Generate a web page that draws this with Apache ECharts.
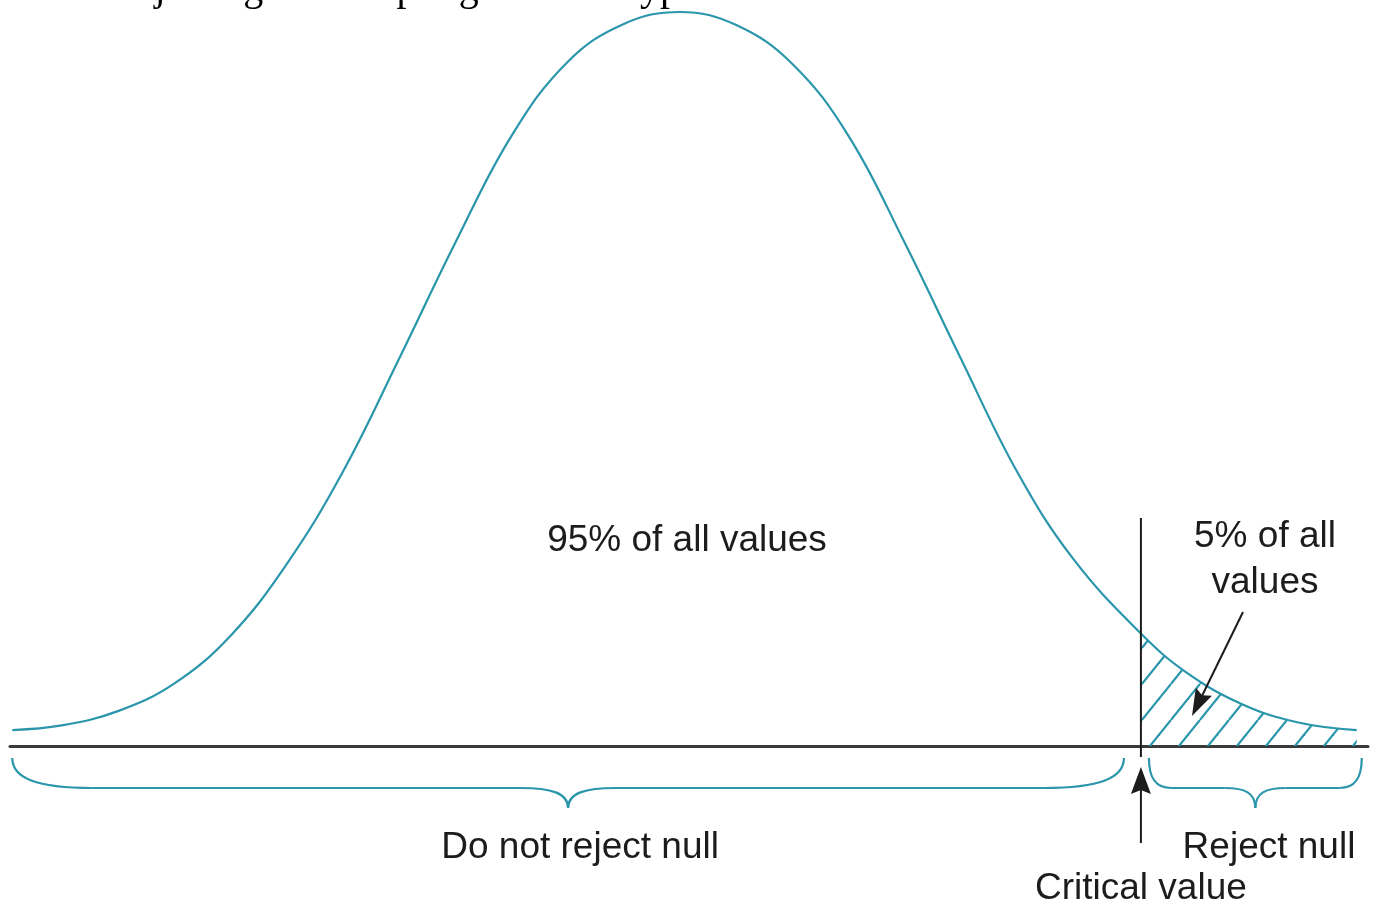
<!DOCTYPE html>
<html>
<head>
<meta charset="utf-8">
<title>Critical value and rejection region</title>
<script src="https://cdn.jsdelivr.net/npm/echarts@6/dist/echarts.min.js"></script>
<style>
  html, body { margin: 0; padding: 0; background: #ffffff; }
  #chart { width: 1375px; height: 905px; }
</style>
</head>
<body>
<div id="chart"></div>
<script>
// Sampling distribution: standardized position and curve height
const CURVE_Z = [-2.97, -2.75, -2.5, -2.25, -2.0, -1.75, -1.5, -1.25, -1.0, -0.75, -0.5, -0.25, 0,
                 0.25, 0.5, 0.75, 1.0, 1.25, 1.5, 1.75, 2.05, 2.25, 2.5, 2.75, 3.01];
const CURVE_H = [0.0087, 0.0112, 0.0190, 0.0340, 0.0600, 0.0990, 0.1493, 0.2109, 0.2741, 0.3324, 0.3728, 0.3935, 0.4000,
                 0.3929, 0.3717, 0.3324, 0.2741, 0.2109, 0.1493, 0.1018, 0.0613, 0.0403, 0.0228, 0.0128, 0.0086];
// Critical value separating the two decisions
const CRITICAL_Z = 2.05;

// Text
const CAPTION = 'Rejecting the sampling the null hypothesis';
const LABEL_KEEP_SHARE = '95% of all values';
const LABEL_TAIL_SHARE = ['5% of all', 'values'];
const LABEL_KEEP = 'Do not reject null';
const LABEL_REJECT = 'Reject null';
const LABEL_CRITICAL = 'Critical value';

const TEAL = '#2a96ab';
const INK = '#1c1c1c';
const SANS = '"Liberation Sans", Arial, Helvetica, sans-serif';

const curveData = CURVE_Z.map((z, i) => [z, CURVE_H[i]]);
const tailData = curveData.filter(p => p[0] >= CRITICAL_Z);

// Diagonal hatch tile for the rejection region
function hatchTile() {
  const w = 29, h = 36, off = 10.94;
  const c = document.createElement('canvas');
  c.width = w; c.height = h;
  const ctx = c.getContext('2d');
  ctx.strokeStyle = TEAL;
  ctx.lineWidth = 2.2;
  for (let k = -2; k <= 2; k++) {
    ctx.beginPath();
    ctx.moveTo(off + k * w, h);
    ctx.lineTo(off + k * w + w, 0);
    ctx.stroke();
  }
  return c;
}

const chart = echarts.init(document.getElementById('chart'), null, { renderer: 'canvas' });

chart.setOption({
  animation: false,
  backgroundColor: '#ffffff',
  grid: { left: 10, right: 7, top: 12, bottom: 159 },
  xAxis: {
    type: 'value', min: -2.98, max: 3.06,
    axisLine: { show: true, lineStyle: { color: '#3a3a3a', width: 3 } },
    axisTick: { show: false }, axisLabel: { show: false }, splitLine: { show: false }
  },
  yAxis: {
    type: 'value', min: 0, max: 0.4, show: false,
    splitLine: { show: false }
  },
  series: [
    {
      type: 'line', data: tailData, smooth: 0.4, symbol: 'none', clip: false,
      lineStyle: { width: 0 },
      areaStyle: { color: { image: hatchTile(), repeat: 'repeat' }, opacity: 1 },
      z: 1
    },
    {
      type: 'line', data: curveData, smooth: 0.4, symbol: 'none', clip: false,
      lineStyle: { color: TEAL, width: 2.2 },
      z: 2
    }
  ]
});

function px(z, h) { return chart.convertToPixel({ gridIndex: 0 }, [z, h || 0]); }

const braceStyle = { stroke: TEAL, lineWidth: 2.2, fill: null };

// Curly brace spanning x1..x2 below the axis, built from curve and line pieces
function brace(x1, x2, r, r2) {
  const yt = 758, yh = 788, yb = 808;
  const xm = (x1 + x2) / 2;
  const bez = (a, b, c1, c2) => ({
    type: 'bezierCurve', silent: true, z: 10, style: braceStyle,
    shape: { x1: a[0], y1: a[1], x2: b[0], y2: b[1], cpx1: c1[0], cpy1: c1[1], cpx2: c2[0], cpy2: c2[1] }
  });
  const seg = (a, b) => ({
    type: 'line', silent: true, z: 10, style: braceStyle,
    shape: { x1: a[0], y1: a[1], x2: b[0], y2: b[1] }
  });
  return [
    bez([x1, yt], [x1 + r, yh], [x1, yh - 10], [x1 + r * 0.3, yh]),
    seg([x1 + r, yh], [xm - r2, yh]),
    bez([xm - r2, yh], [xm, yb], [xm - r2 * 0.35, yh], [xm, yh + 5]),
    bez([xm, yb], [xm + r2, yh], [xm, yh + 5], [xm + r2 * 0.35, yh]),
    seg([xm + r2, yh], [x2 - r, yh]),
    bez([x2 - r, yh], [x2, yt], [x2 - r * 0.3, yh], [x2, yh - 10])
  ];
}

function arrowHead(tipX, tipY, fromX, fromY, len, half) {
  const dx = tipX - fromX, dy = tipY - fromY;
  const d = Math.sqrt(dx * dx + dy * dy);
  const ux = dx / d, uy = dy / d;
  const bx = tipX - ux * len, by = tipY - uy * len;
  return [[tipX, tipY], [bx - uy * half, by + ux * half], [bx + ux * 4, by + uy * 4], [bx + uy * half, by - ux * half]];
}

function text(str, x, y, size, family) {
  return {
    type: 'text', silent: true, z: 10,
    style: {
      text: str, x: x, y: y, font: size + 'px ' + family, fill: INK,
      align: 'center', verticalAlign: 'middle', textAlign: 'center', textVerticalAlign: 'middle'
    }
  };
}

const crit = px(CRITICAL_Z)[0];
const leftEnd = px(CURVE_Z[0])[0];
const rightEnd = px(CURVE_Z[CURVE_Z.length - 1])[0];
const peakX = px(0)[0];

// Arrow from the tail label into the hatched area
const tailArrowFrom = [1243, 612];
const tailArrowTip = [1192, 716];

chart.setOption({
  graphic: [
    // caption line running off the top edge
    {
      type: 'text', silent: true,
      style: {
        text: CAPTION, x: 110, y: -11, font: '40px "Liberation Serif", "Times New Roman", serif', fill: '#000',
        align: 'left', verticalAlign: 'middle', textAlign: 'left', textVerticalAlign: 'middle'
      }
    },
    // critical value line
    { type: 'line', silent: true, shape: { x1: crit, y1: 518, x2: crit, y2: 757 }, style: { stroke: INK, lineWidth: 2 }, z: 10 },
    { type: 'line', silent: true, shape: { x1: crit, y1: 785, x2: crit, y2: 843 }, style: { stroke: INK, lineWidth: 2 }, z: 10 },
    { type: 'polygon', silent: true, shape: { points: arrowHead(crit, 767, crit, 843, 27, 10) }, style: { fill: INK }, z: 10 },
    // pointer to the tail area
    { type: 'line', silent: true, shape: { x1: tailArrowFrom[0], y1: tailArrowFrom[1], x2: tailArrowTip[0] + 8, y2: tailArrowTip[1] - 16 }, style: { stroke: INK, lineWidth: 2 }, z: 10 },
    { type: 'polygon', silent: true, shape: { points: arrowHead(tailArrowTip[0], tailArrowTip[1], tailArrowFrom[0], tailArrowFrom[1], 27, 9) }, style: { fill: INK }, z: 10 },
    // decision braces
    ...brace(leftEnd, crit - 17, 80, 48),
    ...brace(crit + 8, rightEnd + 5, 22, 30),
    // labels
    text(LABEL_KEEP_SHARE, peakX + 7, 541, 37, SANS),
    text(LABEL_TAIL_SHARE[0], 1265, 537, 37, SANS),
    text(LABEL_TAIL_SHARE[1], 1265, 583, 37, SANS),
    text(LABEL_KEEP, (leftEnd + crit - 17) / 2 + 12, 848, 37, SANS),
    text(LABEL_REJECT, 1269, 848, 37, SANS),
    text(LABEL_CRITICAL, crit, 889, 37, SANS)
  ]
});
</script>
</body>
</html>
